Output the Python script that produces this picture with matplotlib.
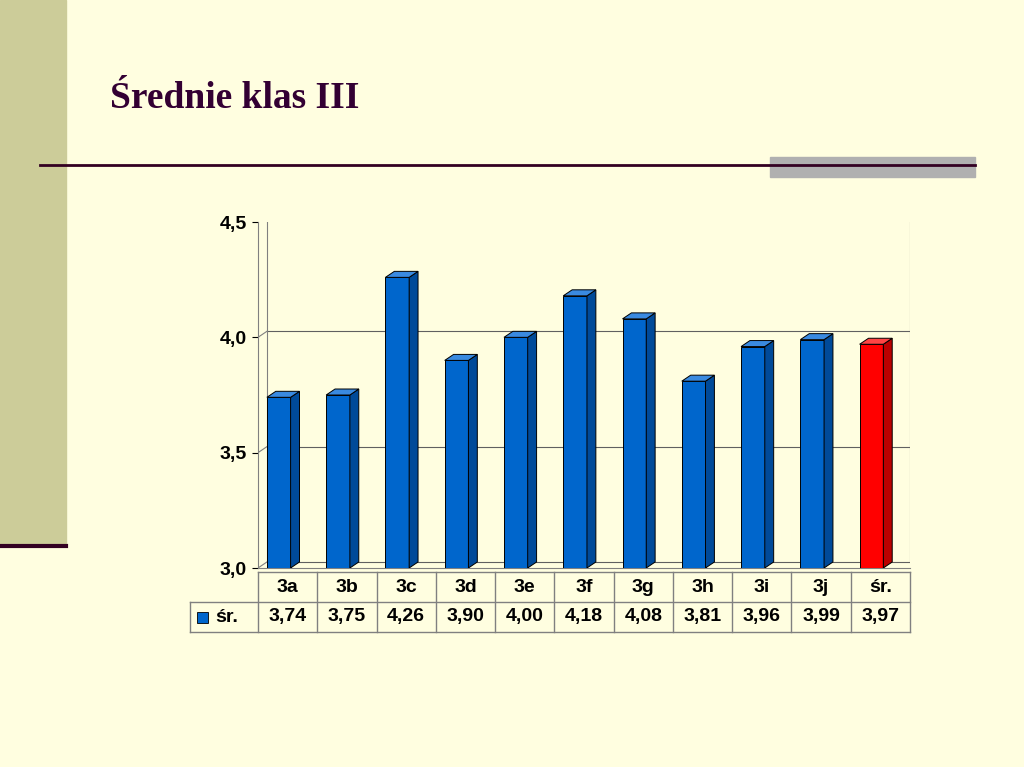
import matplotlib
matplotlib.use("Agg")
import matplotlib.pyplot as plt
from matplotlib.patches import Polygon, Rectangle
from matplotlib.lines import Line2D

categories = ["3a","3b","3c","3d","3e","3f","3g","3h","3i","3j","śr."]
values = [3.74,3.75,4.26,3.90,4.00,4.18,4.08,3.81,3.96,3.99,3.97]
labels = ["3,74","3,75","4,26","3,90","4,00","4,18","4,08","3,81","3,96","3,99","3,97"]
yticks = [3.0,3.5,4.0,4.5]
ytick_labels = ["3,0","3,5","4,0","4,5"]

bg = "#FFFEE0"
fig = plt.figure(figsize=(10.24,7.67), dpi=100, facecolor=bg)
W,H = 1024,767
def fx(px): return px/W
def fy(py): return 1-py/H

fig.patches.append(Rectangle((0,fy(545)), fx(66), 1-fy(545), transform=fig.transFigure, color="#CCCC99", zorder=0))
fig.lines.append(Line2D([0,fx(66)],[fy(546),fy(546)], transform=fig.transFigure, color="#330022", lw=3))
fig.patches.append(Rectangle((fx(770),fy(177)), fx(205), fy(157)-fy(177), transform=fig.transFigure, color="#B0B0B0", zorder=1))
fig.lines.append(Line2D([fx(40),fx(975)],[fy(165),fy(165)], transform=fig.transFigure, color="#330022", lw=2, zorder=3))
fig.text(fx(110), fy(98), "Średnie klas III", family="Liberation Serif", weight="bold", fontsize=27, color="#330033", va="center")

ax = fig.add_axes([fx(258), fy(568), fx(910)-fx(258), fy(222)-fy(568)])
ax.set_facecolor(bg)
ax.set_xlim(0,11); ax.set_ylim(3.0,4.5)
ax.set_yticks(yticks); ax.set_yticklabels(ytick_labels, family="Liberation Sans", weight="bold", fontsize=14)
ax.set_xticks([])
ax.tick_params(axis="y", length=4, pad=4)
for s in ["top","right"]: ax.spines[s].set_visible(False)
ax.spines["left"].set_color("#808080"); ax.spines["bottom"].set_color("#808080")
dx, dy = 0.15, 0.026
for t in yticks:
    ax.plot([0,dx],[t,t+dy], color="#808080", lw=0.8)
    ax.plot([dx,11],[t+dy,t+dy], color="#606060", lw=0.8, zorder=0.5)
ax.plot([dx,dx],[3.0+dy,4.5+dy], color="#808080", lw=0.8)
ax.plot([11,11],[3.0+dy,4.5+dy], color="#808080", lw=0.8)
bw = 0.4
for i,v in enumerate(values):
    red = i == len(values)-1
    fc, sc, tc = ("#FF0000","#BB0000","#FF4444") if red else ("#0066CC","#004A99","#3A8AE0")
    x0 = i+0.35-bw/2
    ax.add_patch(Rectangle((x0,3.0), bw, v-3.0, facecolor=fc, edgecolor="black", lw=0.7, zorder=3))
    ax.add_patch(Polygon([(x0+bw,3.0),(x0+bw+dx,3.0+dy),(x0+bw+dx,v+dy),(x0+bw,v)], facecolor=sc, edgecolor="black", lw=0.7, zorder=3))
    ax.add_patch(Polygon([(x0,v),(x0+dx,v+dy),(x0+bw+dx,v+dy),(x0+bw,v)], facecolor=tc, edgecolor="black", lw=0.7, zorder=3))

tr = ax.transAxes
def ay(py): return (568-py)/346
def axx(px): return (px-258)/652
y0,y1,y2 = ay(572),ay(602),ay(632)
kw = dict(transform=tr, clip_on=False, color="#808080", lw=1)
ax.add_line(Line2D([0,1],[y0,y0],**kw))
ax.add_line(Line2D([axx(190),1],[y1,y1],**kw))
ax.add_line(Line2D([axx(190),1],[y2,y2],**kw))
ax.add_line(Line2D([axx(190),axx(190)],[y1,y2],**kw))
for k in range(12):
    xk = k/11
    ax.add_line(Line2D([xk,xk],[y0,y2],**kw))
tk = dict(transform=tr, ha="center", va="center", family="Liberation Sans", weight="bold", fontsize=14, clip_on=False)
for i,(c,l) in enumerate(zip(categories,labels)):
    xc = (i+0.5)/11
    ax.text(xc,(y0+y1)/2,c,**tk)
    ax.text(xc,(y1+y2)/2,l,**tk)
ax.add_patch(Rectangle((axx(197),(y1+y2)/2-0.018), 11/652, 11/346, transform=tr, clip_on=False, facecolor="#0066CC", edgecolor="black", lw=0.6))
ax.text(axx(215),(y1+y2)/2,"śr.",transform=tr, ha="left", va="center", family="Liberation Sans", weight="bold", fontsize=14, clip_on=False)

fig.savefig("out.png", dpi=100, facecolor=bg)
